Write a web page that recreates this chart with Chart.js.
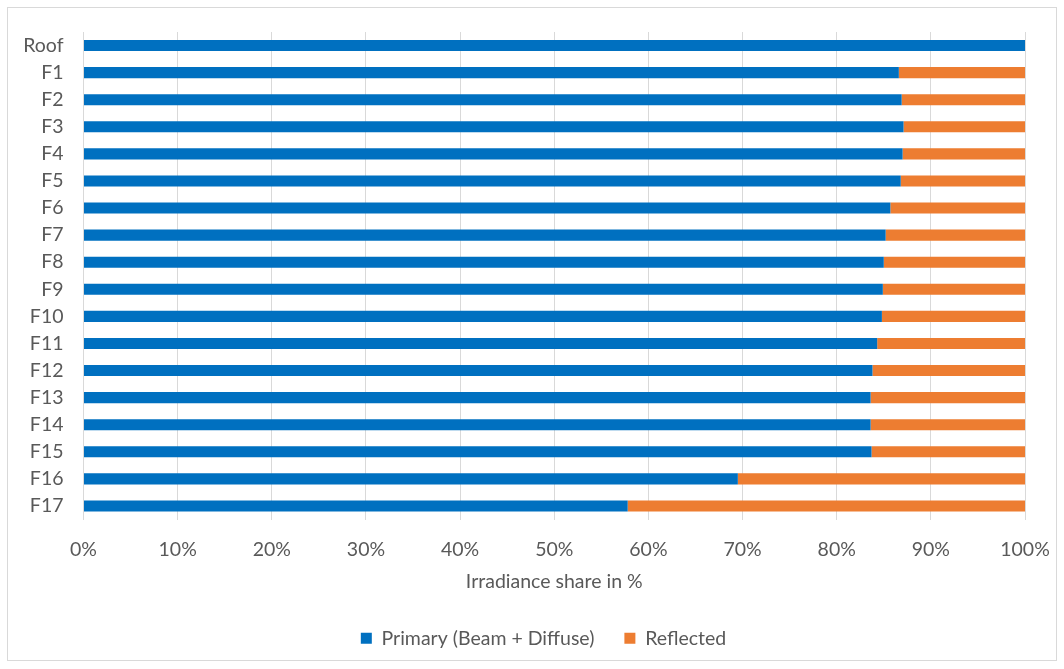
<!DOCTYPE html>
<html>
<head>
<meta charset="utf-8">
<script src="https://cdn.jsdelivr.net/npm/chart.js@4.4.1/dist/chart.umd.min.js"></script>
<style>
  html, body { margin: 0; padding: 0; background: #ffffff; }
  #wrap { width: 1064px; height: 669px; position: relative; }
</style>
</head>
<body>
<div id="wrap"><canvas id="c" width="1064" height="669"></canvas></div>
<script>
const categories = ["Roof","F1","F2","F3","F4","F5","F6","F7","F8","F9","F10","F11","F12","F13","F14","F15","F16","F17"];
const primaryShare = [100, 86.6, 86.9, 87.1, 87.0, 86.8, 85.7, 85.2, 85.0, 84.9, 84.8, 84.3, 83.8, 83.6, 83.6, 83.7, 69.5, 57.8];
const reflectedShare = [0, 13.4, 13.1, 12.9, 13.0, 13.2, 14.3, 14.8, 15.0, 15.1, 15.2, 15.7, 16.2, 16.4, 16.4, 16.3, 30.5, 42.2];
const seriesNames = ["Primary (Beam + Diffuse)", "Reflected"];
const xTickStep = 10;
const axisTitle = "Irradiance share in %";

const FONT = "Lato, 'Open Sans', sans-serif";
const FS = 19.5;
const TXT = "#595959";
const GRID = "#d9d9d9";

const borderPlugin = {
  id: 'outerBorder',
  beforeDraw(chart) {
    const ctx = chart.ctx;
    ctx.save();
    ctx.fillStyle = '#ffffff';
    ctx.fillRect(0, 0, chart.width, chart.height);
    ctx.strokeStyle = GRID;
    ctx.lineWidth = 1;
    ctx.strokeRect(7.5, 7.5, 1049, 653);
    ctx.restore();
  }
};

const legendShift = {
  id: 'legendShift',
  afterLayout(chart) {
    if (chart.legend) { chart.legend.left += 26; chart.legend.right += 26; }
  }
};

new Chart(document.getElementById('c'), {
  type: 'bar',
  data: {
    labels: categories,
    datasets: [
      { label: seriesNames[0], data: primaryShare, backgroundColor: '#0070C0', borderWidth: 0, barPercentage: 0.41, categoryPercentage: 1.0 },
      { label: seriesNames[1], data: reflectedShare, backgroundColor: '#ED7D31', borderWidth: 0, barPercentage: 0.41, categoryPercentage: 1.0 }
    ]
  },
  plugins: [borderPlugin, legendShift],
  options: {
    indexAxis: 'y',
    responsive: false,
    animation: false,
    devicePixelRatio: 1,
    layout: { padding: { left: 10, right: 39, top: 32, bottom: 11 } },
    plugins: {
      tooltip: { enabled: false },
      legend: {
        position: 'bottom',
        labels: {
          boxWidth: 11, boxHeight: 11, padding: 30,
          color: TXT,
          font: { family: FONT, size: FS }
        }
      }
    },
    scales: {
      x: {
        stacked: true,
        min: 0, max: 100,
        ticks: {
          stepSize: xTickStep,
          padding: 19,
          color: TXT,
          font: { family: FONT, size: FS },
          callback: v => v + '%'
        },
        grid: { color: GRID, lineWidth: 1, drawTicks: false },
        border: { display: false },
        title: {
          display: true, text: axisTitle, color: TXT,
          font: { family: FONT, size: FS },
          padding: { top: 4, bottom: 5 }
        },
        afterFit(scale) { scale.height = 79; scale.paddingRight = 0; scale.paddingLeft = 0; }
      },
      y: {
        stacked: true,
        ticks: {
          autoSkip: false,
          padding: 20,
          color: TXT,
          font: { family: FONT, size: FS }
        },
        grid: { display: false, drawTicks: false },
        border: { display: true, color: GRID, width: 1 },
        afterFit(scale) { scale.width = 73.5; scale.paddingTop = 0; scale.paddingBottom = 0; }
      }
    }
  }
});
</script>
</body>
</html>
